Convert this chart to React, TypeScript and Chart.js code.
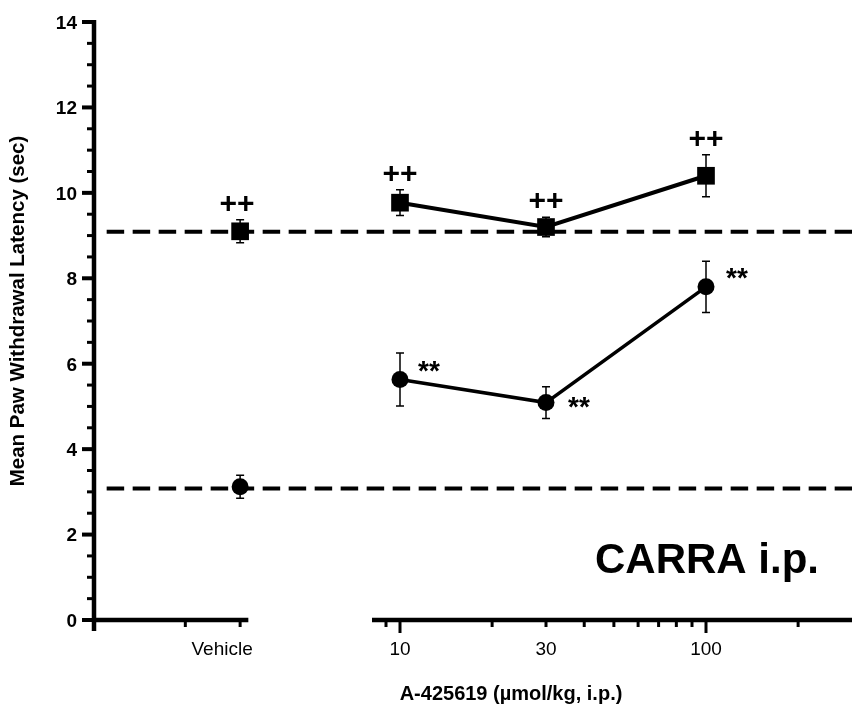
import React, { useEffect, useRef } from "react";
import { Chart, registerables } from "chart.js";

Chart.register(...registerables);

// ---------- data ----------
const VEHICLE_LABEL = "Vehicle";
const DOSES = [10, 30, 100];
const DOSE_LABELS = [10, 30, 100];

const SQUARE_VEHICLE = 9.1;
const SQUARE_VEHICLE_SEM = 0.27;
const SQUARE_MEANS = [9.77, 9.2, 10.4];
const SQUARE_SEM = [0.3, 0.23, 0.49];

const CIRCLE_VEHICLE = 3.12;
const CIRCLE_VEHICLE_SEM = 0.27;
const CIRCLE_MEANS = [5.63, 5.09, 7.8];
const CIRCLE_SEM = [0.62, 0.37, 0.6];

const BASELINES = [9.09, 3.08];

const SQUARE_MARKS = ["++", "++", "++", "++"]; // vehicle, 10, 30, 100
const CIRCLE_MARKS = ["**", "**", "**"]; // 10, 30, 100

const Y_MAJOR = [0, 2, 4, 6, 8, 10, 12, 14];
const Y_MINOR = [0.5, 1, 1.5, 2.5, 3, 3.5, 4.5, 5, 5.5, 6.5, 7, 7.5, 8.5, 9, 9.5, 10.5, 11, 11.5, 12.5, 13, 13.5];
const LOG_TICKS = [9, 10, 20, 30, 40, 50, 60, 70, 80, 90, 100, 200];
const LOG_MAJOR = [10, 100];

const X_TITLE = "A-425619 (µmol/kg, i.p.)";
const Y_TITLE = "Mean Paw Withdrawal Latency (sec)";
const PANEL_LABEL = "CARRA i.p.";

// ---------- axis geometry (in scale units) ----------
const VEH_X = 1.6;
const VEH_AXIS_TICKS = [1, 1.6];
const VEH_AXIS_END = 1.69;
const VEH_SCALE_MAX = 8.3;
const LOG_MIN = 1;
const LOG_MAX = 300;
const LOG_AXIS_START = 8.1;
const BASELINE_START = 1.1;

// ---------- styles ----------
const FONT = "'Liberation Sans', Arial, Helvetica, sans-serif";
const STAR_DX = [18, 22, 20];
const STAR_DY = [0, 13, 0];
const PLUS_DX = [-3, 0, 0, 0];

const axesPlugin = {
  id: "prismAxes",
  beforeDatasetsDraw(chart: any) {
    const ctx = chart.ctx as CanvasRenderingContext2D;
    const ys = chart.scales.y;
    const xv = chart.scales.xv;
    const xl = chart.scales.xl;
    const area = chart.chartArea;
    const left = area.left;
    const y0 = ys.getPixelForValue(0);
    const yTop = ys.getPixelForValue(14);
    const line = (x1: number, y1: number, x2: number, y2: number, w: number) => {
      ctx.lineWidth = w;
      ctx.beginPath();
      ctx.moveTo(x1, y1);
      ctx.lineTo(x2, y2);
      ctx.stroke();
    };
    ctx.save();
    ctx.strokeStyle = "#000";
    ctx.fillStyle = "#000";
    ctx.lineCap = "butt";
    // y axis
    line(left, yTop - 2, left, y0 + 11, 4.5);
    for (const v of Y_MAJOR) {
      const p = ys.getPixelForValue(v);
      line(left - 12, p, left, p, 4);
    }
    for (const v of Y_MINOR) {
      const p = ys.getPixelForValue(v);
      line(left - 7, p, left, p, 3);
    }
    ctx.font = `bold 19px ${FONT}`;
    ctx.textAlign = "right";
    ctx.textBaseline = "alphabetic";
    for (const v of Y_MAJOR) {
      const p = ys.getPixelForValue(v);
      ctx.fillText(String(v), left - 17, p + 6.8);
    }
    // x axis, vehicle segment
    const vEnd = xv.getPixelForValue(VEH_AXIS_END);
    line(left, y0, vEnd, y0, 4.5);
    for (const v of VEH_AXIS_TICKS) {
      const p = xv.getPixelForValue(v);
      line(p, y0 - 2, p, y0 + 7, 3);
    }
    // x axis, dose (log) segment
    const lStart = xl.getPixelForValue(LOG_AXIS_START);
    line(lStart, y0, area.right, y0, 4.5);
    for (const v of LOG_TICKS) {
      const p = xl.getPixelForValue(v);
      const major = LOG_MAJOR.includes(v);
      line(p, y0 - 2, p, y0 + (major ? 13 : 7), 3);
    }
    // x tick labels
    ctx.font = `19px ${FONT}`;
    ctx.textAlign = "center";
    ctx.fillText(VEHICLE_LABEL, xv.getPixelForValue(VEH_X) - 18, y0 + 35);
    for (const v of DOSE_LABELS) {
      ctx.fillText(String(v), xl.getPixelForValue(v), y0 + 35);
    }
    // titles
    ctx.font = `bold 20px ${FONT}`;
    ctx.fillText(X_TITLE, 511, y0 + 80);
    ctx.save();
    ctx.font = `bold 20.5px ${FONT}`;
    ctx.translate(24, 311);
    ctx.rotate(-Math.PI / 2);
    ctx.fillText(Y_TITLE, 0, 0);
    ctx.restore();
    // panel label
    ctx.font = `bold 42px ${FONT}`;
    ctx.textAlign = "left";
    ctx.fillText(PANEL_LABEL, 595, 573);
    ctx.restore();
  },
  afterDatasetsDraw(chart: any) {
    const ctx = chart.ctx as CanvasRenderingContext2D;
    const ys = chart.scales.y;
    const xv = chart.scales.xv;
    const xl = chart.scales.xl;
    ctx.save();
    ctx.strokeStyle = "#000";
    ctx.fillStyle = "#000";
    const errBar = (px: number, mean: number, sem: number) => {
      const t = ys.getPixelForValue(mean + sem);
      const b = ys.getPixelForValue(mean - sem);
      ctx.lineWidth = 1.5;
      ctx.beginPath();
      ctx.moveTo(px, t);
      ctx.lineTo(px, b);
      ctx.moveTo(px - 4, t);
      ctx.lineTo(px + 4, t);
      ctx.moveTo(px - 4, b);
      ctx.lineTo(px + 4, b);
      ctx.stroke();
      return t;
    };
    const vx = xv.getPixelForValue(VEH_X);
    const sqX = [vx, ...DOSES.map((d) => xl.getPixelForValue(d))];
    const sqM = [SQUARE_VEHICLE, ...SQUARE_MEANS];
    const sqS = [SQUARE_VEHICLE_SEM, ...SQUARE_SEM];
    ctx.font = `bold 30px ${FONT}`;
    ctx.textAlign = "center";
    ctx.textBaseline = "alphabetic";
    sqX.forEach((px, i) => {
      const top = errBar(px, sqM[i], sqS[i]);
      ctx.fillText(SQUARE_MARKS[i], px + PLUS_DX[i], top - 17 + 10);
    });
    errBar(vx, CIRCLE_VEHICLE, CIRCLE_VEHICLE_SEM);
    ctx.font = `bold 28px ${FONT}`;
    ctx.textAlign = "left";
    DOSES.forEach((d, i) => {
      const px = xl.getPixelForValue(d);
      errBar(px, CIRCLE_MEANS[i], CIRCLE_SEM[i]);
      const py = ys.getPixelForValue(CIRCLE_MEANS[i]);
      ctx.fillText(CIRCLE_MARKS[i], px + STAR_DX[i], py + STAR_DY[i]);
    });
    ctx.restore();
  },
};

export default function App() {
  const ref = useRef<HTMLCanvasElement>(null);
  useEffect(() => {
    if (!ref.current) return;
    const black = "#000";
    const dashed = (v: number) => ({
      xAxisID: "xl",
      data: [
        { x: BASELINE_START, y: v },
        { x: LOG_MAX, y: v },
      ],
      showLine: true,
      borderColor: black,
      borderWidth: 4,
      borderDash: [17.5, 8.5],
      pointRadius: 0,
      order: 10,
    });
    const chart = new Chart(ref.current, {
      type: "scatter",
      data: {
        datasets: [
          dashed(BASELINES[0]),
          dashed(BASELINES[1]),
          {
            xAxisID: "xl",
            data: DOSES.map((d, i) => ({ x: d, y: SQUARE_MEANS[i] })),
            showLine: true,
            borderColor: black,
            borderWidth: 4,
            backgroundColor: black,
            pointStyle: "rect",
            pointRadius: 12.5,
            pointBorderWidth: 0,
            order: 1,
          },
          {
            xAxisID: "xl",
            data: DOSES.map((d, i) => ({ x: d, y: CIRCLE_MEANS[i] })),
            showLine: true,
            borderColor: black,
            borderWidth: 3.5,
            backgroundColor: black,
            pointStyle: "circle",
            pointRadius: 8.5,
            pointBorderWidth: 0,
            order: 1,
          },
          {
            xAxisID: "xv",
            data: [{ x: VEH_X, y: SQUARE_VEHICLE }],
            backgroundColor: black,
            borderColor: black,
            pointStyle: "rect",
            pointRadius: 12.5,
            pointBorderWidth: 0,
            order: 1,
          },
          {
            xAxisID: "xv",
            data: [{ x: VEH_X, y: CIRCLE_VEHICLE }],
            backgroundColor: black,
            borderColor: black,
            pointStyle: "circle",
            pointRadius: 8.5,
            pointBorderWidth: 0,
            order: 1,
          },
        ],
      },
      options: {
        responsive: false,
        animation: false,
        devicePixelRatio: 1,
        layout: { autoPadding: false, padding: { left: 94, top: 22, right: 0, bottom: 90 } },
        plugins: { legend: { display: false }, tooltip: { enabled: false } },
        scales: {
          y: { type: "linear", min: 0, max: 14, display: false },
          xv: { type: "linear", position: "bottom", min: 0, max: VEH_SCALE_MAX, display: false },
          xl: { type: "logarithmic", position: "bottom", min: LOG_MIN, max: LOG_MAX, display: false },
        },
      },
      plugins: [axesPlugin],
    } as any);
    return () => chart.destroy();
  }, []);
  return (
    <div style={{ position: "absolute", left: 0, top: 0, width: 852, height: 710, background: "#fff" }}>
      <canvas ref={ref} width={852} height={710} style={{ display: "block" }} />
    </div>
  );
}
